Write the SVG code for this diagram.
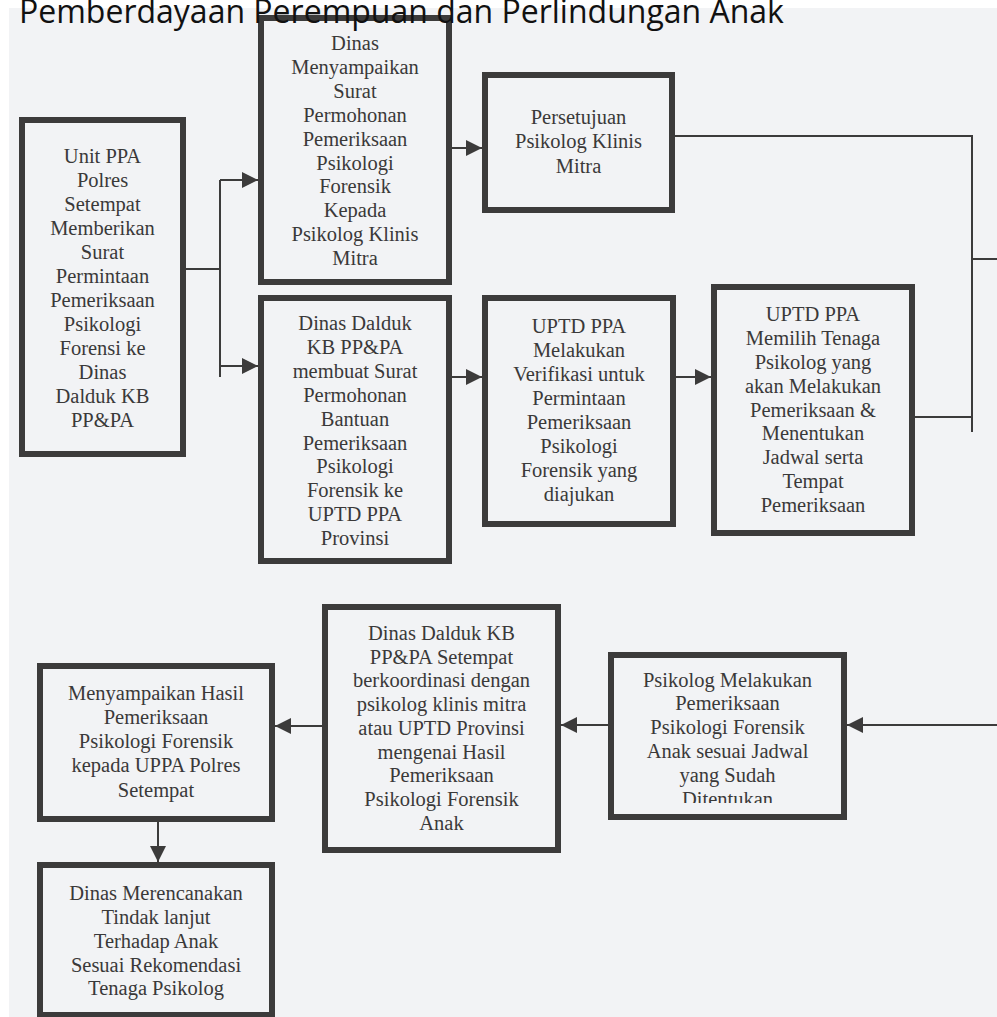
<svg xmlns="http://www.w3.org/2000/svg" width="997" height="1017" viewBox="0 0 997 1017">
<style>
.box{fill:none;stroke:#3c3b3b;stroke-width:6}
.t{font-family:"Liberation Serif","Times New Roman",serif;font-size:20.5px;fill:#3a3939;text-anchor:middle}
.c{fill:none;stroke:#3c3b3b;stroke-width:2}
.title{font-family:"Open Sans","Noto Sans",sans-serif;font-size:32px;fill:#111}
</style>
<defs>
<marker id="ah" viewBox="0 0 16 16" refX="16" refY="8" markerWidth="16" markerHeight="16" markerUnits="userSpaceOnUse" orient="auto">
<path d="M0,0 L16,8 L0,16 z" fill="#3c3b3b"/>
</marker>
<clipPath id="clip10"><rect x="608" y="652" width="239" height="151"/></clipPath>
</defs>
<rect x="0" y="0" width="997" height="1017" fill="#ffffff"/>
<rect x="9" y="8" width="988" height="1009" fill="#f2f3f5"/>

<g id="connectors">
<path class="c" d="M186,269 H220"/>
<path class="c" d="M220,180 V377"/>
<path class="c" d="M220,180 H258" marker-end="url(#ah)"/>
<path class="c" d="M220,366 H258" marker-end="url(#ah)"/>
<path class="c" d="M452,148 H482" marker-end="url(#ah)"/>
<path class="c" d="M452,377 H482" marker-end="url(#ah)"/>
<path class="c" d="M676,377 H711" marker-end="url(#ah)"/>
<path class="c" d="M675,136 H972 V432"/>
<path class="c" d="M915,417 H972"/>
<path class="c" d="M972,259 H997"/>
<path class="c" d="M997,725 H847" marker-end="url(#ah)"/>
<path class="c" d="M608,725 H561" marker-end="url(#ah)"/>
<path class="c" d="M322,726 H275" marker-end="url(#ah)"/>
<path class="c" d="M158,822 V862" marker-end="url(#ah)"/>
</g>

<g id="n1">
<rect class="box" x="22" y="120" width="161" height="334"/>
<text class="t" x="102.5" y="163">Unit PPA</text>
<text class="t" x="102.5" y="187">Polres</text>
<text class="t" x="102.5" y="211">Setempat</text>
<text class="t" x="102.5" y="235">Memberikan</text>
<text class="t" x="102.5" y="259">Surat</text>
<text class="t" x="102.5" y="283">Permintaan</text>
<text class="t" x="102.5" y="307">Pemeriksaan</text>
<text class="t" x="102.5" y="331">Psikologi</text>
<text class="t" x="102.5" y="355">Forensi ke</text>
<text class="t" x="102.5" y="379">Dinas</text>
<text class="t" x="102.5" y="403">Dalduk KB</text>
<text class="t" x="102.5" y="427">PP&amp;PA</text>
</g>

<g id="n2">
<rect class="box" x="261" y="18" width="188" height="264"/>
<text class="t" x="355" y="50">Dinas</text>
<text class="t" x="355" y="74">Menyampaikan</text>
<text class="t" x="355" y="98">Surat</text>
<text class="t" x="355" y="122">Permohonan</text>
<text class="t" x="355" y="146">Pemeriksaan</text>
<text class="t" x="355" y="170">Psikologi</text>
<text class="t" x="355" y="193">Forensik</text>
<text class="t" x="355" y="217">Kepada</text>
<text class="t" x="355" y="241">Psikolog Klinis</text>
<text class="t" x="355" y="265">Mitra</text>
</g>

<g id="n3">
<rect class="box" x="261" y="298" width="188" height="263"/>
<text class="t" x="355" y="330">Dinas Dalduk</text>
<text class="t" x="355" y="354">KB PP&amp;PA</text>
<text class="t" x="355" y="378">membuat Surat</text>
<text class="t" x="355" y="402">Permohonan</text>
<text class="t" x="355" y="426">Bantuan</text>
<text class="t" x="355" y="450">Pemeriksaan</text>
<text class="t" x="355" y="473">Psikologi</text>
<text class="t" x="355" y="497">Forensik ke</text>
<text class="t" x="355" y="521">UPTD PPA</text>
<text class="t" x="355" y="545">Provinsi</text>
</g>

<g id="n4">
<rect class="box" x="485" y="75" width="187" height="135"/>
<text class="t" x="578.5" y="124">Persetujuan</text>
<text class="t" x="578.5" y="148">Psikolog Klinis</text>
<text class="t" x="578.5" y="173">Mitra</text>
</g>

<g id="n5">
<rect class="box" x="485" y="298" width="188" height="226"/>
<text class="t" x="579" y="333">UPTD PPA</text>
<text class="t" x="579" y="357">Melakukan</text>
<text class="t" x="579" y="381">Verifikasi untuk</text>
<text class="t" x="579" y="405">Permintaan</text>
<text class="t" x="579" y="429">Pemeriksaan</text>
<text class="t" x="579" y="453">Psikologi</text>
<text class="t" x="579" y="477">Forensik yang</text>
<text class="t" x="579" y="501">diajukan</text>
</g>

<g id="n6">
<rect class="box" x="714" y="287" width="198" height="246"/>
<text class="t" x="813" y="321">UPTD PPA</text>
<text class="t" x="813" y="345">Memilih Tenaga</text>
<text class="t" x="813" y="369">Psikolog yang</text>
<text class="t" x="813" y="393">akan Melakukan</text>
<text class="t" x="813" y="417">Pemeriksaan &amp;</text>
<text class="t" x="813" y="440">Menentukan</text>
<text class="t" x="813" y="464">Jadwal serta</text>
<text class="t" x="813" y="488">Tempat</text>
<text class="t" x="813" y="512">Pemeriksaan</text>
</g>

<g id="n7">
<rect class="box" x="40" y="666" width="232" height="153"/>
<text class="t" x="156" y="700">Menyampaikan Hasil</text>
<text class="t" x="156" y="724">Pemeriksaan</text>
<text class="t" x="156" y="748">Psikologi Forensik</text>
<text class="t" x="156" y="772">kepada UPPA Polres</text>
<text class="t" x="156" y="797">Setempat</text>
</g>

<g id="n8">
<rect class="box" x="325" y="607" width="233" height="243"/>
<text class="t" x="441.5" y="640">Dinas Dalduk KB</text>
<text class="t" x="441.5" y="664">PP&amp;PA Setempat</text>
<text class="t" x="441.5" y="687">berkoordinasi dengan</text>
<text class="t" x="441.5" y="711">psikolog klinis mitra</text>
<text class="t" x="441.5" y="735">atau UPTD Provinsi</text>
<text class="t" x="441.5" y="759">mengenai Hasil</text>
<text class="t" x="441.5" y="782">Pemeriksaan</text>
<text class="t" x="441.5" y="806">Psikologi Forensik</text>
<text class="t" x="441.5" y="830">Anak</text>
</g>

<g id="n9">
<rect class="box" x="40" y="865" width="232" height="150"/>
<text class="t" x="156" y="900">Dinas Merencanakan</text>
<text class="t" x="156" y="924">Tindak lanjut</text>
<text class="t" x="156" y="948">Terhadap Anak</text>
<text class="t" x="156" y="972">Sesuai Rekomendasi</text>
<text class="t" x="156" y="995">Tenaga Psikolog</text>
</g>

<g id="n10">
<rect class="box" x="611" y="655" width="233" height="162"/>
<g clip-path="url(#clip10)">
<text class="t" x="727.5" y="687">Psikolog Melakukan</text>
<text class="t" x="727.5" y="710">Pemeriksaan</text>
<text class="t" x="727.5" y="734">Psikologi Forensik</text>
<text class="t" x="727.5" y="758">Anak sesuai Jadwal</text>
<text class="t" x="727.5" y="782">yang Sudah</text>
<text class="t" x="727.5" y="806">Ditentukan</text>
</g>
</g>

<g id="title">
<text class="title" x="19" y="23">Pemberdayaan Perempuan dan Perlindungan Anak</text>
</g>
</svg>
